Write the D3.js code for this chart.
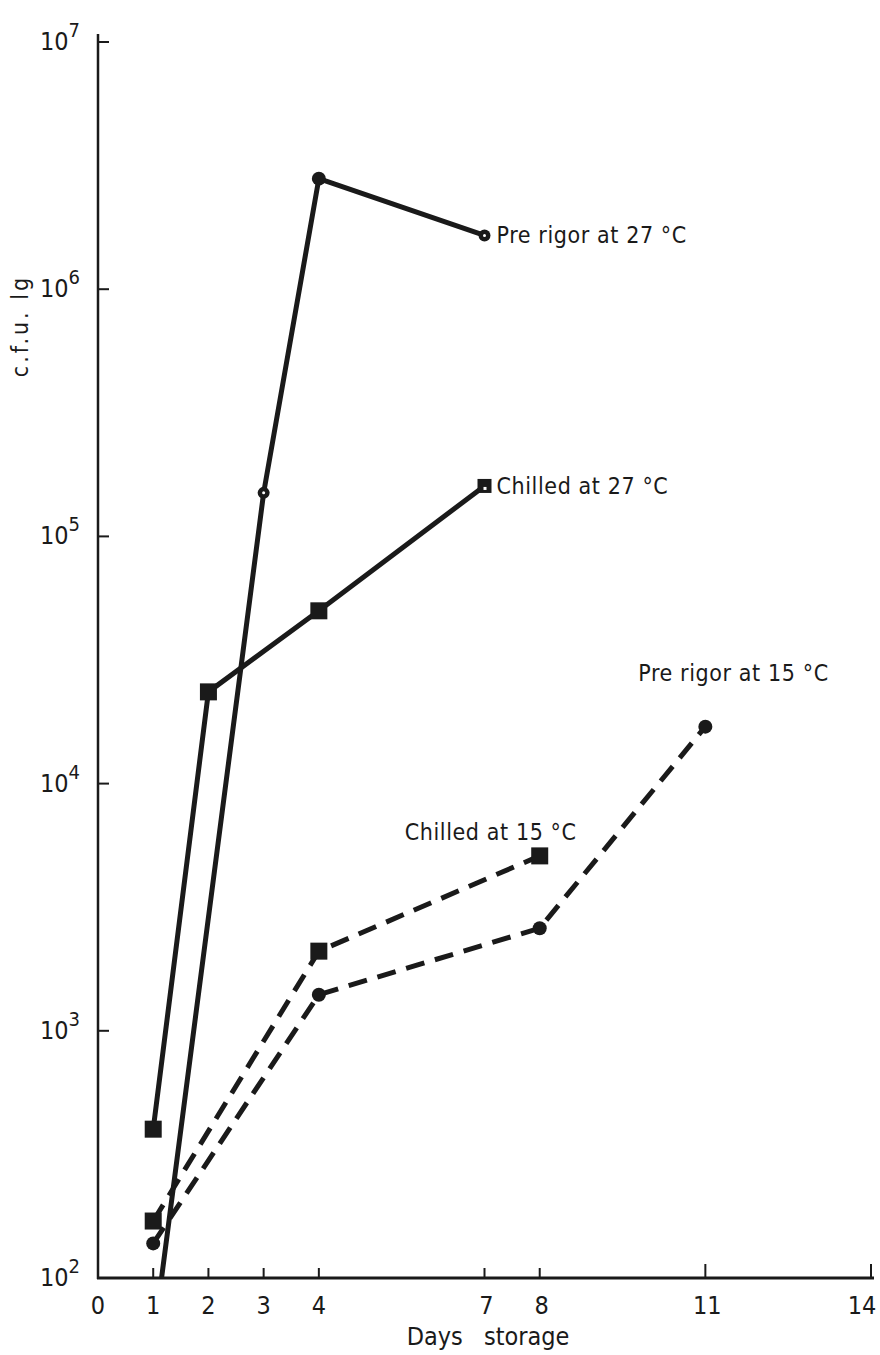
<!DOCTYPE html>
<html>
<head>
<meta charset="utf-8">
<script src="https://cdn.jsdelivr.net/npm/d3@7"></script>
<style>
  body { margin: 0; background: #fff; }
  svg { display: block; }
  text { font-family: "DejaVu Sans Condensed", "Liberation Sans", Arial, sans-serif; fill: #1a1a1a; }
</style>
</head>
<body>
<svg id="chart" width="880" height="1355"></svg>
<script>
// days on x axis
var xTicks = [0, 1, 2, 3, 4, 7, 8, 11, 14];
var yTicks = [1e2, 1e3, 1e4, 1e5, 1e6, 1e7];
var yExp = [2, 3, 4, 5, 6, 7];

// series values (c.f.u./g)
var preRigor27Days = [1, 3, 4, 7];
var preRigor27Vals = [55, 150000, 2800000, 1650000];

var chilled27Days = [1, 2, 4, 7];
var chilled27Vals = [400, 23500, 50000, 160000];

var chilled15Days = [1, 4, 8];
var chilled15Vals = [170, 2100, 5100];

var preRigor15Days = [1, 4, 8, 11];
var preRigor15Vals = [138, 1400, 2600, 17000];

var seriesNames = ["Pre rigor at 27 °C", "Chilled at 27 °C", "Chilled at 15 °C", "Pre rigor at 15 °C"];

function zip(days, vals) {
	return days.map(function(d, i) { return {day: d, val: vals[i]}; });
}

var series = [
	{name: seriesNames[0], data: zip(preRigor27Days, preRigor27Vals), dashed: false, marker: "circle"},
	{name: seriesNames[1], data: zip(chilled27Days, chilled27Vals), dashed: false, marker: "square"},
	{name: seriesNames[2], data: zip(chilled15Days, chilled15Vals), dashed: true, marker: "square"},
	{name: seriesNames[3], data: zip(preRigor15Days, preRigor15Vals), dashed: true, marker: "circle"}
];

var svg = d3.select("#chart");
var ink = "#1a1a1a";

var x0 = 98, x1 = 871, yTop = 42, yBot = 1278;

var xScale = d3.scaleLinear().domain([0, 14]).range([x0, x1]);
var yScale = d3.scaleLog().domain([1e2, 1e7]).range([yBot, yTop]);

// clip so lines stop at the axes
svg.append("clipPath").attr("id", "plotclip")
	.append("rect").attr("x", x0).attr("y", 0).attr("width", x1 - x0 + 20).attr("height", yBot);

//Axes
var xAxis = svg.append("g").attr("transform", "translate(0," + yBot + ")");
xAxis.append("line")
	.attr("x1", x0 - 1).attr("x2", x1 + 3)
	.attr("stroke", ink).attr("stroke-width", 3);
xAxis.selectAll(".xtick").data(xTicks.filter(function(d) { return d > 0; }))
	.enter().append("line")
	.attr("x1", function(d) { return xScale(d); })
	.attr("x2", function(d) { return xScale(d); })
	.attr("y1", 0)
	.attr("y2", function(d) { return d >= 11 ? -14 : -10; })
	.attr("stroke", ink).attr("stroke-width", 2);
xAxis.selectAll(".xlab").data(xTicks)
	.enter().append("text")
	.attr("x", function(d) { return xScale(d) + (d === 14 ? -9 : (d >= 7 ? 2 : 0)); })
	.attr("y", 36)
	.attr("text-anchor", "middle")
	.attr("font-size", 25)
	.text(function(d) { return d; });

var yAxis = svg.append("g").attr("transform", "translate(" + x0 + ",0)");
yAxis.append("line")
	.attr("y1", 34).attr("y2", yBot + 1)
	.attr("stroke", ink).attr("stroke-width", 2.5);
yAxis.selectAll(".ytick").data(yTicks.slice(1))
	.enter().append("line")
	.attr("x1", 0).attr("x2", 11)
	.attr("y1", function(d) { return yScale(d); })
	.attr("y2", function(d) { return yScale(d); })
	.attr("stroke", ink).attr("stroke-width", 2);

var ylab = yAxis.selectAll(".ylab").data(yTicks)
	.enter().append("text")
	.attr("x", -18)
	.attr("y", function(d) { return yScale(d) + 8; })
	.attr("text-anchor", "end")
	.attr("font-size", 25);
ylab.append("tspan").text("10");
ylab.append("tspan")
	.attr("dy", -13).attr("font-size", 20)
	.text(function(d, i) { return yExp[i]; });

svg.append("text")
	.attr("transform", "translate(28,326) rotate(-90)")
	.attr("text-anchor", "middle")
	.attr("font-size", 23)
	.attr("letter-spacing", 3)
	.text("c.f.u. lg");

svg.append("text")
	.attr("x", 488).attr("y", 1345)
	.attr("text-anchor", "middle")
	.attr("font-size", 25)
	.attr("word-spacing", 14)
	.text("Days storage");

//Lines
var line = d3.line()
	.x(function(d) { return xScale(d.day); })
	.y(function(d) { return yScale(d.val); });

var plot = svg.append("g").attr("clip-path", "url(#plotclip)");

plot.selectAll(".series").data(series)
	.enter().append("path")
	.attr("d", function(s) { return line(s.data); })
	.attr("fill", "none")
	.attr("stroke", ink)
	.attr("stroke-width", 5)
	.attr("stroke-linejoin", "round")
	.attr("stroke-dasharray", function(s) { return s.dashed ? "19,11" : null; });

//Markers (the open-looking ones get a small white dot)
series.forEach(function(s, si) {
	var g = plot.append("g");
	s.data.forEach(function(d, i) {
		var cx = xScale(d.day), cy = yScale(d.val);
		if (cy > yBot) return;
		var small = (si === 0 && i !== 2) || (si === 1 && i === 3);
		if (s.marker === "circle") {
			g.append("circle").attr("cx", cx).attr("cy", cy)
				.attr("r", small ? 6 : 7).attr("fill", ink);
			if (small) g.append("circle").attr("cx", cx).attr("cy", cy).attr("r", 1.5).attr("fill", "#fff");
		} else {
			var sz = small ? 14 : 17;
			g.append("rect").attr("x", cx - sz / 2).attr("y", cy - sz / 2)
				.attr("width", sz).attr("height", sz).attr("fill", ink);
			if (small) g.append("rect").attr("x", cx - 1).attr("y", cy + 1).attr("width", 3).attr("height", 3).attr("fill", "#fff");
		}
	});
});

//Series labels
var labelPos = [
	{day: 7, val: 1650000, dx: 12, dy: 8, anchor: "start"},
	{day: 7, val: 160000, dx: 12, dy: 8, anchor: "start"},
	{day: 8, val: 5100, dx: -135, dy: -16, anchor: "start"},
	{day: 11, val: 17000, dx: -67, dy: -46, anchor: "start"}
];
svg.selectAll(".slab").data(series)
	.enter().append("text")
	.attr("x", function(d, i) { return xScale(labelPos[i].day) + labelPos[i].dx; })
	.attr("y", function(d, i) { return yScale(labelPos[i].val) + labelPos[i].dy; })
	.attr("text-anchor", function(d, i) { return labelPos[i].anchor; })
	.attr("font-size", 23)
	.attr("letter-spacing", 0.6)
	.text(function(d) { return d.name; });
</script>
</body>
</html>
